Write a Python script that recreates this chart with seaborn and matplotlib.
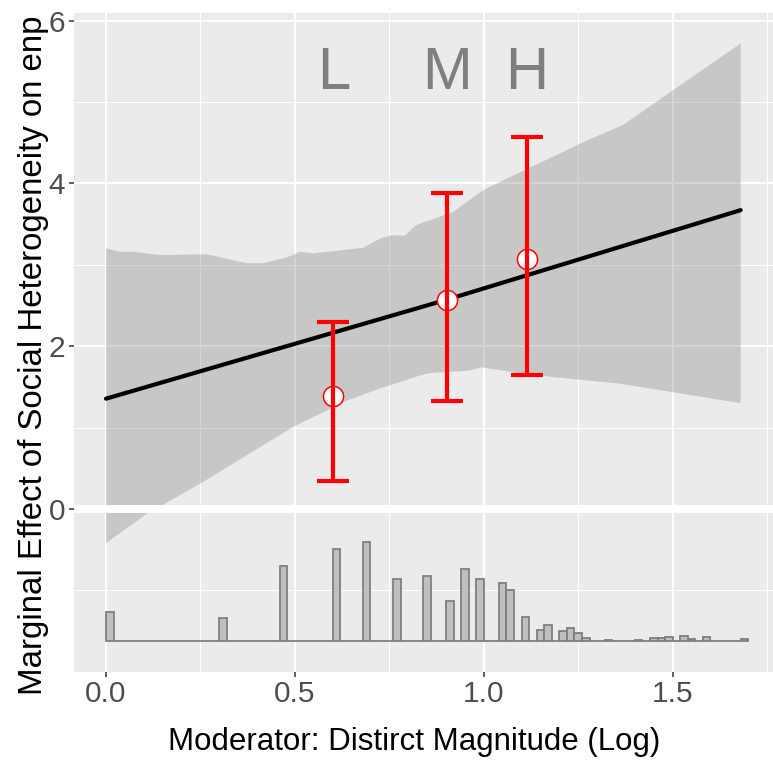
import numpy as np
import pandas as pd
import matplotlib
matplotlib.use("Agg")
import matplotlib.pyplot as plt
import seaborn as sns

# ---------------- data ----------------
# linear marginal effect
line_x = [0.0, 0.903, 1.680]
line_y = [1.355, 2.573, 3.672]

# confidence band edges
band_upper_x = [0.000, 0.037, 0.072, 0.108, 0.143, 0.267, 0.372, 0.416, 0.478, 0.513,
                0.549, 0.681, 0.725, 0.752, 0.791, 0.822, 0.858, 0.919, 0.999, 1.061,
                1.202, 1.255, 1.369, 1.502, 1.680]
band_upper_y = [3.20, 3.16, 3.16, 3.14, 3.12, 3.13, 3.02, 3.02, 3.09, 3.16,
                3.14, 3.21, 3.32, 3.36, 3.36, 3.49, 3.55, 3.65, 3.92, 4.06,
                4.37, 4.49, 4.72, 5.15, 5.72]
band_lower_x = [0.000, 0.108, 0.249, 0.408, 0.496, 0.637, 0.725, 0.831, 0.858, 0.963,
                0.994, 1.078, 1.184, 1.360, 1.680]
band_lower_y = [-0.42, -0.06, 0.31, 0.76, 1.01, 1.33, 1.48, 1.64, 1.67, 1.70,
                1.74, 1.68, 1.62, 1.54, 1.30]

# binned estimates
bin_labels = ["L", "M", "H"]
bin_x = [0.602, 0.903, 1.114]
bin_est = [1.387, 2.565, 3.077]
bin_lo = [0.342, 1.331, 1.642]
bin_hi = [2.298, 3.877, 4.569]

# histogram of the moderator (85 bins of width 0.02, heights in axis units)
hist_heights = [
    0.357, 0, 0, 0, 0, 0, 0, 0, 0, 0,
    0, 0, 0, 0, 0, 0.288, 0, 0, 0, 0,
    0, 0, 0, 0.931, 0, 0, 0, 0, 0, 0,
    1.137, 0, 0, 0, 1.218, 0, 0, 0, 0.768, 0,
    0, 0, 0.808, 0, 0, 0.492, 0, 0.891, 0, 0.759,
    0, 0, 0.713, 0.624, 0, 0.295, 0, 0.140, 0.202, 0,
    0.132, 0.165, 0.107, 0.046, 0, 0, 0.021, 0, 0, 0,
    0.021, 0.009, 0.037, 0.037, 0.049, 0, 0.070, 0.025, 0, 0.058,
    0, 0.009, 0, 0.009, 0.025,
]
hist_edges = np.linspace(0.0, 1.70, 86)
hist_base = -1.626

x_ticks = [0.0, 0.5, 1.0, 1.5]
x_tick_labels = ["0.0", "0.5", "1.0", "1.5"]
y_ticks = [0, 2, 4, 6]
y_tick_labels = ["0", "2", "4", "6"]

# ---------------- style ----------------
sns.set_theme(style="darkgrid")
plt.rcParams["font.family"] = ["Liberation Sans", "DejaVu Sans"]
plt.rcParams["axes.facecolor"] = "#EBEBEB"

W, H = 773, 760
fig = plt.figure(figsize=(W / 100, H / 100), dpi=100)
ax = fig.add_axes([74 / W, (H - 671.7) / H, 1 - 74 / W, (671.7 - 12.7) / H])
ax.set_facecolor("#EBEBEB")
for s in ax.spines.values():
    s.set_visible(False)

# grid
ax.set_xticks(x_ticks)
ax.set_xticklabels(x_tick_labels)
ax.set_xticks([0.25, 0.75, 1.25, 1.75], minor=True)
ax.set_yticks(y_ticks)
ax.set_yticklabels(y_tick_labels)
ax.set_yticks([-1, 1, 3, 5], minor=True)
ax.grid(which="major", color="white", linewidth=1.45)
ax.grid(which="minor", color="white", linewidth=0.75)
ax.set_axisbelow(True)

# histogram
widths = np.diff(hist_edges)
ax.bar(hist_edges[:-1], hist_heights, width=widths, bottom=hist_base, align="edge",
       color="#BFBFBF", edgecolor="#7F7F7F", linewidth=1.3, zorder=2)

# band
poly_x = np.r_[band_upper_x, band_lower_x[::-1]]
poly_y = np.r_[band_upper_y, band_lower_y[::-1]]
ax.fill(poly_x, poly_y, color="#7F7F7F", alpha=0.33, linewidth=0, zorder=2)

# zero line
ax.axhline(0, color="white", linewidth=5.7, zorder=3)

# marginal effect line
line_df = pd.DataFrame({"x": line_x, "y": line_y})
sns.lineplot(data=line_df, x="x", y="y", ax=ax, color="black", linewidth=3.0, zorder=4)

# bin points and error bars
pts = pd.DataFrame({"x": bin_x, "y": bin_est})
sns.scatterplot(data=pts, x="x", y="y", ax=ax, s=14.5 ** 2, color="white",
                edgecolor="red", linewidth=1.1, zorder=5)
ax.errorbar(bin_x, bin_est,
            yerr=[np.array(bin_est) - np.array(bin_lo), np.array(bin_hi) - np.array(bin_est)],
            fmt="none", ecolor="red", elinewidth=3.0, capsize=11.5, capthick=3.0, zorder=6)

for lab, xv in zip(bin_labels, bin_x):
    ax.text(xv, 5.156, lab, fontsize=43, color="#7F7F7F", ha="center", va="baseline", zorder=7)

ax.set_xlim(-0.0847, 1.7655)
ax.set_ylim(-2.0, 6.098)

ax.tick_params(axis="both", which="major", length=3.8, width=1.1, color="#333333",
               labelsize=21.5, labelcolor="#4D4D4D", pad=2.5, bottom=True, left=True)
ax.tick_params(axis="both", which="minor", length=0, bottom=False, left=False)

ax.set_xlabel("")
ax.set_ylabel("")
fig.text(414 / W, 1 - 742 / H, "Moderator: Distirct Magnitude (Log)", fontsize=22.5,
         color="black", ha="center", va="center")
fig.text(34 / W, 1 - 355 / H, "Marginal Effect of Social Heterogeneity on enp", fontsize=23.8,
         color="black", ha="center", va="center", rotation=90)

fig.savefig("out.png", dpi=100, facecolor="white")
